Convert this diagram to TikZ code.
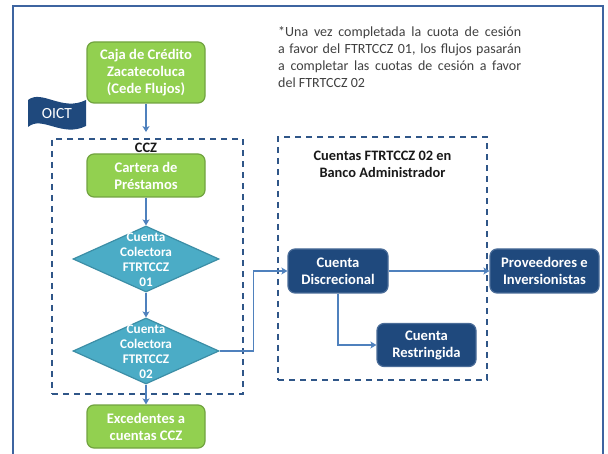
\documentclass[tikz,border=0pt]{standalone}
\usepackage{fontspec}
\setmainfont{Carlito}
\usetikzlibrary{shapes.geometric,arrows.meta}
\definecolor{cgreen}{HTML}{92D050}
\definecolor{cgreenb}{HTML}{71A340}
\definecolor{cteal}{HTML}{4BACC6}
\definecolor{ctealb}{HTML}{3C8EA6}
\definecolor{cnavy}{HTML}{1F497D}
\definecolor{cnavyb}{HTML}{4A6C98}
\definecolor{carrow}{HTML}{4F81BD}
\definecolor{cdash}{HTML}{2F5688}
\definecolor{cframe}{HTML}{3D64A0}
\definecolor{ctext}{HTML}{404040}
\begin{document}
\begin{tikzpicture}[x=1pt,y=-1pt,
 boxbase/.style={rounded corners=7pt, line width=1.2pt, text=white, align=center,
   font=\fontsize{14.6}{17}\selectfont\bfseries, inner sep=0pt},
 greenbox/.style={boxbase, fill=cgreen, draw=cgreenb, minimum width=118pt},
 navybox/.style={boxbase, fill=cnavy, draw=cnavyb},
 dia/.style={diamond, fill=cteal, draw=ctealb, line width=1.2pt, minimum width=146pt, minimum height=66pt, inner sep=0pt},
 diatext/.style={text=white, align=center, font=\fontsize{13.2}{15}\selectfont\bfseries, inner sep=0pt},
 flow/.style={draw=carrow, line width=1.5pt, -{Stealth[length=6pt,width=7pt,inset=1.5pt]}},
 region/.style={draw=cdash, line width=1.8pt, dash pattern=on 6pt off 5pt, inner sep=0pt},
 lbl/.style={text=black!90, align=center, font=\fontsize{14.4}{17}\selectfont\bfseries, inner sep=0pt},
]
\useasboundingbox (0,0) rectangle (608,454);
% outer frame
\draw[cframe, line width=2pt] (13,456) -- (13,6) -- (603,6) -- (603,456);

% note
\node[text width=243pt, align=justify, text=ctext, font=\fontsize{14}{17}\selectfont, inner sep=0pt, anchor=north west] (note) at (278,26)
 {*Una vez completada la cuota de cesión\linebreak a favor del FTRTCCZ 01, los flujos pasarán\linebreak a completar las cuotas de cesión a favor\linebreak del FTRTCCZ 02};

% OICT flag
\path[fill=cnavy] (28,100) .. controls (42,89) and (62,112) .. (86,100) -- (86,126)
  .. controls (62,138) and (42,115) .. (28,127) -- cycle;
\node[text=white, font=\fontsize{15.5}{18}\selectfont, inner sep=0pt] (oict) at (57,114) {OICT};

% regions
\node[region, minimum width=191pt, minimum height=255pt] (ccz) at (147.5,266.5) {};
\node[lbl] (cczl) at (146,148) {CCZ};
\node[region, minimum width=209pt, minimum height=243pt] (ctas) at (382.5,258.5) {};
\node[lbl] (ctasl) at (382.5,164) {Cuentas FTRTCCZ 02 en\\Banco Administrador};

% nodes
\node[greenbox, minimum height=61pt] (caja) at (146,72.5) {Caja de Crédito\\Zacatecoluca\\(Cede Flujos)};
\node[greenbox, minimum height=43pt] (cart) at (146,175.5) {Cartera de\\Préstamos};
\node[dia] (d1) at (146,259) {};
\node[diatext] (d1t) at (146,260) {Cuenta\\Colectora\\FTRTCCZ\\01};
\node[dia] (d2) at (146,351) {};
\node[diatext] (d2t) at (146,352) {Cuenta\\Colectora\\FTRTCCZ\\02};
\node[greenbox, minimum height=43pt] (exc) at (146,426.5) {Excedentes a\\cuentas CCZ};
\node[navybox, minimum width=100pt, minimum height=44pt] (disc) at (338,271) {Cuenta\\Discrecional};
\node[navybox, minimum width=99pt, minimum height=43pt] (restr) at (426.5,345) {Cuenta\\Restringida};
\node[navybox, minimum width=109pt, minimum height=44pt] (prov) at (544.5,271) {Proveedores e\\Inversionistas};

% connectors
\draw[flow, shorten >=6pt] (caja.south) -- (caja.south |- ccz.north);
\draw[flow] (cart) -- (d1);
\draw[flow] (d1) -- (d2);
\draw[flow] (d2) -- (exc);
\draw[flow] (d2.east) -- ++(34,0) |- (disc.west);
\draw[flow] (disc.south) |- (restr.west);
\draw[flow] (disc) -- (prov);
\end{tikzpicture}
\end{document}
